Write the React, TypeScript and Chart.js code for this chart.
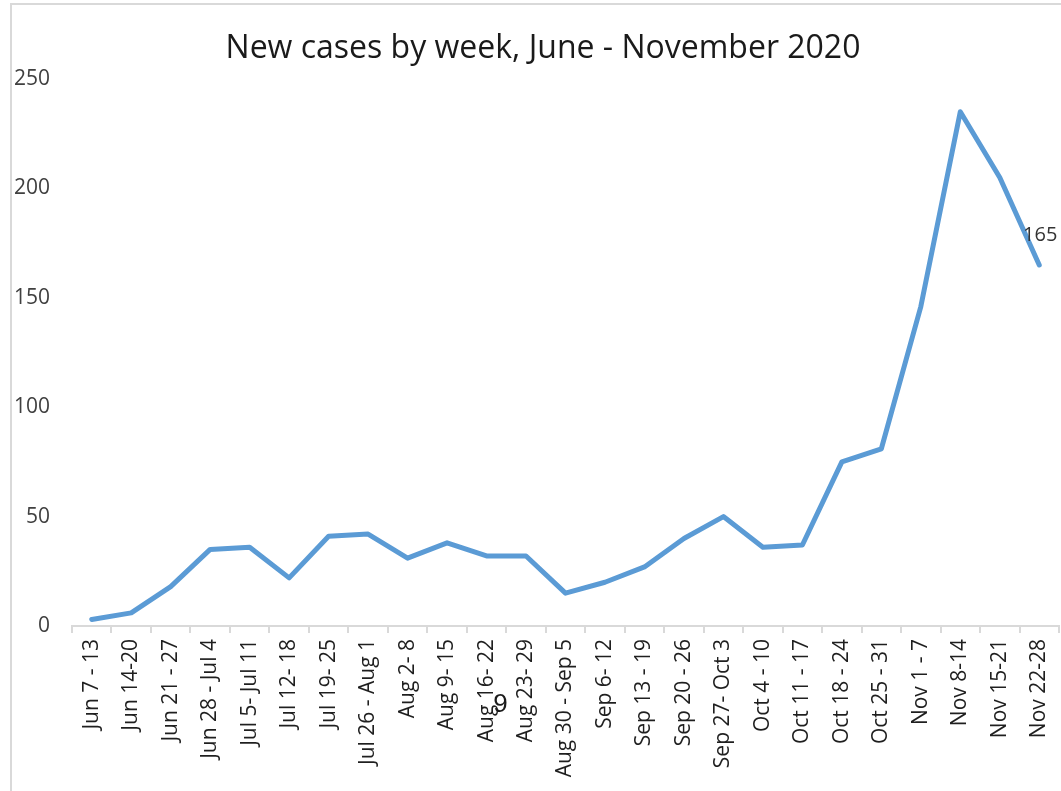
import React, { useEffect, useRef } from "react";
import { Chart, registerables } from "chart.js";

Chart.register(...registerables);

const TITLE = "New cases by week, June - November 2020";

const weeks: string[] = [
  "Jun 7 - 13", "Jun 14-20", "Jun 21 - 27", "Jun 28 - Jul 4", "Jul 5- Jul 11",
  "Jul 12- 18", "Jul 19- 25", "Jul 26 - Aug 1", "Aug 2- 8", "Aug 9- 15",
  "Aug 16- 22", "Aug 23- 29", "Aug 30 - Sep 5", "Sep 6- 12", "Sep 13 - 19",
  "Sep 20 - 26", "Sep 27- Oct 3", "Oct 4 - 10", "Oct 11 - 17", "Oct 18 - 24",
  "Oct 25 - 31", "Nov 1 - 7", "Nov 8-14", "Nov 15-21", "Nov 22-28",
];

const newCases: number[] = [
  3, 6, 18, 35, 36, 22, 41, 42, 31, 38, 32, 32, 15, 20, 27, 40, 50, 36, 37, 75,
  81, 146, 235, 205, 165,
];

const yTicks: number[] = [0, 50, 100, 150, 200, 250];

const FONT = "'Open Sans', 'Noto Sans', sans-serif";

const decorPlugin = {
  id: "decor",
  beforeDraw(chart: any) {
    const ctx = chart.ctx;
    ctx.save();
    ctx.strokeStyle = "#d9d9d9";
    ctx.lineWidth = 2;
    ctx.beginPath();
    ctx.moveTo(11, 791);
    ctx.lineTo(11, 4);
    ctx.lineTo(1061, 4);
    ctx.stroke();
    ctx.restore();
  },
  afterDraw(chart: any) {
    const ctx = chart.ctx;
    const area = chart.chartArea;
    ctx.save();
    // title
    ctx.fillStyle = "#1a1a1a";
    ctx.font = `32px ${FONT}`;
    ctx.textAlign = "center";
    ctx.textBaseline = "alphabetic";
    ctx.fillText(TITLE, 543, 58);
    // data label for last point
    const meta = chart.getDatasetMeta(0);
    const last = meta.data[meta.data.length - 1];
    ctx.font = `20px ${FONT}`;
    ctx.fillStyle = "#333333";
    ctx.textBaseline = "middle";
    ctx.fillText(String(newCases[newCases.length - 1]), last.x + 1, last.y - 30);
    // stray "9" annotation
    const xs = chart.scales.x;
    ctx.font = "26px 'Liberation Sans', sans-serif";
    ctx.fillStyle = "#1a1a1a";
    ctx.fillText("9", xs.getPixelForValue(10) + 14, area.bottom + 79);
    ctx.restore();
  },
};

export default function App() {
  const ref = useRef<HTMLCanvasElement | null>(null);
  useEffect(() => {
    if (!ref.current) return;
    const chart = new Chart(ref.current, {
      type: "line",
      data: {
        labels: weeks,
        datasets: [
          {
            data: newCases,
            borderColor: "#5b9bd5",
            backgroundColor: "#5b9bd5",
            borderWidth: 5,
            pointRadius: 0,
            tension: 0,
            borderJoinStyle: "round",
            borderCapStyle: "round",
          },
        ],
      },
      options: {
        responsive: false,
        animation: false,
        layout: { padding: { top: 79, right: 2, bottom: 0, left: 0 } },
        plugins: {
          legend: { display: false },
          title: { display: false },
          tooltip: { enabled: false },
        },
        scales: {
          x: {
            type: "category",
            offset: true,
            grid: {
              display: true,
              offset: true,
              drawOnChartArea: false,
              drawTicks: true,
              tickLength: 7,
              color: "#d9d9d9",
              lineWidth: 2,
            },
            border: { display: true, color: "#d9d9d9", width: 2 },
            ticks: {
              autoSkip: false,
              minRotation: 90,
              maxRotation: 90,
              padding: 6,
              color: "#1f1f1f",
              font: { family: FONT, size: 21 },
            },
            afterFit: (s: any) => {
              s.height = 165;
              s.paddingLeft = 0;
              s.paddingRight = 0;
            },
          },
          y: {
            min: 0,
            max: 250,
            afterBuildTicks: (s: any) => {
              s.ticks = yTicks.map((v) => ({ value: v }));
            },
            grid: { display: false, drawTicks: false },
            border: { display: false },
            ticks: {
              padding: 22,
              color: "#404040",
              font: { family: FONT, size: 21 },
            },
            afterFit: (s: any) => {
              s.width = 72;
              s.paddingTop = 0;
              s.paddingBottom = 0;
            },
          },
        },
      },
      plugins: [decorPlugin],
    });
    return () => chart.destroy();
  }, []);
  return (
    <div
      style={{
        position: "fixed",
        left: 0,
        top: 0,
        width: 1061,
        height: 791,
        background: "#ffffff",
      }}
    >
      <canvas ref={ref} width={1061} height={791} style={{ width: 1061, height: 791 }} />
    </div>
  );
}
